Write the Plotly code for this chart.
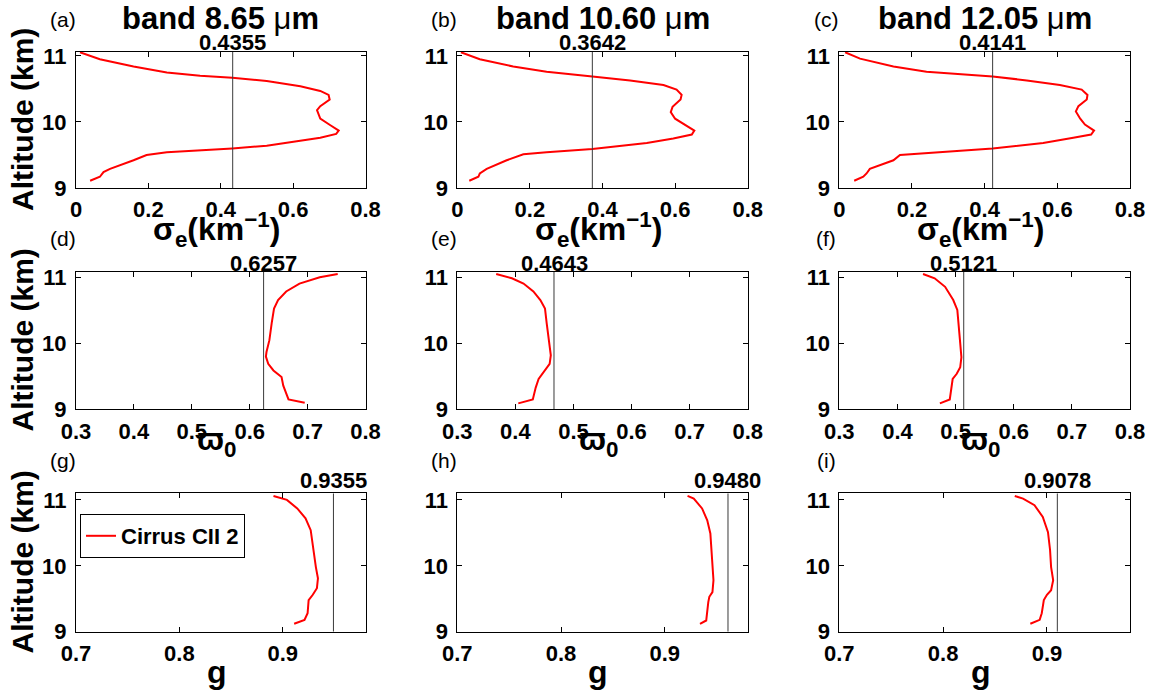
import plotly.graph_objects as go

W, H = 1158, 693

# ---------------- data ----------------
band_titles = ["band 8.65 ", "band 10.60 ", "band 12.05 "]
panel_letters = ["(a)", "(b)", "(c)", "(d)", "(e)", "(f)", "(g)", "(h)", "(i)"]
legend_name = "Cirrus CII 2"

# extinction coefficient sigma_e (km^-1)
alt_a = [11.056, 10.95, 10.84, 10.75, 10.70, 10.67, 10.62, 10.54, 10.47, 10.41, 10.34, 10.24, 10.18, 10.05, 9.95, 9.87, 9.82, 9.76, 9.70, 9.64, 9.60, 9.57, 9.54, 9.50, 9.42, 9.29, 9.24, 9.17, 9.11]
sig_a = [0.011, 0.066, 0.159, 0.251, 0.343, 0.432, 0.527, 0.620, 0.675, 0.698, 0.701, 0.675, 0.666, 0.675, 0.703, 0.726, 0.719, 0.675, 0.601, 0.527, 0.432, 0.343, 0.251, 0.195, 0.159, 0.094, 0.076, 0.066, 0.039]

alt_b = [11.056, 10.95, 10.84, 10.76, 10.69, 10.63, 10.56, 10.49, 10.41, 10.34, 10.23, 10.15, 10.05, 9.96, 9.87, 9.81, 9.75, 9.68, 9.59, 9.54, 9.51, 9.42, 9.29, 9.22, 9.17, 9.11]
sig_b = [0.010, 0.062, 0.154, 0.246, 0.372, 0.476, 0.568, 0.604, 0.618, 0.615, 0.593, 0.588, 0.600, 0.627, 0.653, 0.646, 0.595, 0.522, 0.372, 0.246, 0.182, 0.136, 0.081, 0.062, 0.058, 0.033]

alt_c = [11.056, 10.96, 10.84, 10.76, 10.69, 10.63, 10.56, 10.49, 10.41, 10.34, 10.24, 10.16, 10.05, 9.96, 9.87, 9.81, 9.76, 9.68, 9.60, 9.53, 9.50, 9.42, 9.29, 9.22, 9.17, 9.11]
sig_c = [0.016, 0.057, 0.149, 0.240, 0.422, 0.516, 0.607, 0.667, 0.683, 0.681, 0.658, 0.651, 0.663, 0.676, 0.701, 0.693, 0.644, 0.561, 0.422, 0.240, 0.167, 0.149, 0.084, 0.075, 0.066, 0.041]

# single scattering albedo
alt_d = [11.056, 11.005, 10.91, 10.79, 10.66, 10.53, 10.31, 10.05, 9.87, 9.80, 9.69, 9.59, 9.49, 9.36, 9.15, 9.10]
ssa_d = [0.752, 0.721, 0.686, 0.663, 0.649, 0.642, 0.638, 0.634, 0.629, 0.628, 0.632, 0.641, 0.655, 0.658, 0.667, 0.695]

alt_e = [11.056, 10.99, 10.91, 10.79, 10.66, 10.53, 10.30, 10.05, 9.82, 9.69, 9.56, 9.46, 9.33, 9.15, 9.09]
ssa_e = [0.367, 0.394, 0.414, 0.431, 0.443, 0.451, 0.454, 0.457, 0.461, 0.459, 0.448, 0.440, 0.435, 0.430, 0.405]

alt_f = [11.056, 10.99, 10.86, 10.66, 10.51, 10.25, 10.00, 9.79, 9.64, 9.54, 9.46, 9.15, 9.09]
ssa_f = [0.444, 0.464, 0.482, 0.496, 0.503, 0.506, 0.508, 0.510, 0.508, 0.502, 0.495, 0.490, 0.473]

# asymmetry factor g
alt_g = [11.06, 11.0, 10.87, 10.72, 10.54, 10.29, 9.98, 9.81, 9.66, 9.56, 9.48, 9.28, 9.18, 9.12]
asy_g = [0.891, 0.904, 0.914, 0.922, 0.927, 0.929, 0.932, 0.934, 0.933, 0.929, 0.925, 0.924, 0.921, 0.911]

alt_h = [11.06, 11.02, 10.87, 10.69, 10.49, 10.19, 9.93, 9.78, 9.60, 9.53, 9.45, 9.17, 9.12]
asy_h = [0.922, 0.928, 0.936, 0.941, 0.944, 0.945, 0.946, 0.947, 0.946, 0.943, 0.942, 0.940, 0.934]

alt_i = [11.06, 11.02, 10.92, 10.74, 10.51, 10.24, 9.98, 9.78, 9.63, 9.56, 9.48, 9.28, 9.18, 9.12]
asy_i = [0.869, 0.877, 0.888, 0.896, 0.901, 0.903, 0.904, 0.906, 0.904, 0.900, 0.897, 0.895, 0.893, 0.884]

# mean values (labels) and drawn positions of the vertical lines
mean_labels = ["0.4355", "0.3642", "0.4141", "0.6257", "0.4643", "0.5121", "0.9355", "0.9480", "0.9078"]
mean_line_x = [0.433, 0.372, 0.422, 0.624, 0.4665, 0.514, 0.949, 0.961, 0.910]

x_ranges = [[0, 0.8], [0.3, 0.8], [0.7, 0.98]]
x_tickvals = [[0, 0.2, 0.4, 0.6, 0.8], [0.3, 0.4, 0.5, 0.6, 0.7, 0.8], [0.7, 0.8, 0.9]]
y_ranges = [[9, 11.06], [9, 11.09], [9, 11.1]]
y_tickvals = [9, 10, 11]

profiles = [(sig_a, alt_a), (sig_b, alt_b), (sig_c, alt_c),
            (ssa_d, alt_d), (ssa_e, alt_e), (ssa_f, alt_f),
            (asy_g, alt_g), (asy_h, alt_h), (asy_i, alt_i)]

x_titles = ["<b>σ<sub>e</sub>(km<sup>−1</sup>)</b>", "<b>ϖ<sub>0</sub></b>", "<b>g</b>"]
y_title = "<b>Altitude (km)</b>"

# ---------------- layout geometry (pixels) ----------------
cols_px = [(76, 365.5), (457.3, 747.7), (839.3, 1130)]
rows_px = [(52, 188), (271.7, 409.3), (493.3, 631.7)]
label_drop = [6, 7.3, 2.7]
xtitle_y = [229, 441, 672]

def px_x(p):
    return p / W

def px_y(p):
    return 1 - p / H

FONT = "Arial"
fig = go.Figure()
annotations = []

for k in range(9):
    r, c = divmod(k, 3)
    idx = k + 1
    xa = "x" if idx == 1 else f"x{idx}"
    ya = "y" if idx == 1 else f"y{idx}"
    xv, yv = profiles[k]
    fig.add_trace(go.Scatter(x=xv, y=yv, mode="lines", line=dict(color="#ff0000", width=2),
                             name=legend_name, showlegend=(k == 6), xaxis=xa, yaxis=ya))
    fig.add_trace(go.Scatter(x=[mean_line_x[k], mean_line_x[k]], y=[y_ranges[r][0], y_ranges[r][1]],
                             mode="lines", line=dict(color="#3a3a3a", width=1),
                             showlegend=False, xaxis=xa, yaxis=ya, hoverinfo="skip"))
    axkw = dict(showline=True, linecolor="black", linewidth=1, mirror="ticks",
                ticks="inside", ticklen=5, tickcolor="black", showgrid=False, zeroline=False,
                automargin=False,
                tickfont=dict(family=FONT, size=22, color="black", weight="bold"))
    fig.layout[("xaxis" if idx == 1 else f"xaxis{idx}")] = dict(
        domain=[px_x(cols_px[c][0]), px_x(cols_px[c][1])], anchor=ya,
        range=x_ranges[r], tickvals=x_tickvals[r], ticklabelstandoff=2, **axkw)
    fig.layout[("yaxis" if idx == 1 else f"yaxis{idx}")] = dict(
        domain=[px_y(rows_px[r][1]), px_y(rows_px[r][0])], anchor=xa,
        range=y_ranges[r], tickvals=y_tickvals, ticklabelstandoff=4, **axkw)

    # value label above the vertical line
    annotations.append(dict(x=mean_line_x[k], xref=xa, y=px_y(rows_px[r][0] - 1 + label_drop[r]),
                            yref="paper", text=f"<b>{mean_labels[k]}</b>", showarrow=False,
                            xanchor="center", yanchor="bottom",
                            font=dict(family=FONT, size=22, color="black")))
    # panel letter
    cx0 = cols_px[c][0]
    annotations.append(dict(x=px_x(cx0 - 13), y=px_y(rows_px[r][0] - 33), xref="paper", yref="paper",
                            text=panel_letters[k], showarrow=False, xanchor="center", yanchor="middle",
                            font=dict(family=FONT, size=21, color="black")))
    # x-axis title
    xc = (cols_px[c][0] + cols_px[c][1]) / 2
    annotations.append(dict(x=px_x(xc - 4), y=px_y(xtitle_y[r]), xref="paper", yref="paper",
                            text=x_titles[r], showarrow=False, xanchor="center", yanchor="middle",
                            font=dict(family=FONT, size=32, color="black")))
    if c == 0:
        yc = (rows_px[r][0] + rows_px[r][1]) / 2
        annotations.append(dict(x=px_x(22), y=px_y(yc), xref="paper", yref="paper",
                                text=y_title, showarrow=False, textangle=-90,
                                xanchor="center", yanchor="middle",
                                font=dict(family=FONT, size=30, color="black")))
    if r == 0:
        annotations.append(dict(x=px_x(xc), y=px_y(18), xref="paper", yref="paper",
                                text=f"<b>{band_titles[c]}</b>μ<b>m</b>", showarrow=False,
                                xanchor="center", yanchor="middle",
                                font=dict(family=FONT, size=31, color="black")))

fig.update_layout(
    width=W, height=H, margin=dict(l=0, r=0, t=0, b=0, autoexpand=False),
    paper_bgcolor="white", plot_bgcolor="white",
    annotations=annotations,
    legend=dict(x=px_x(80), y=px_y(514), xanchor="left", yanchor="top",
                bordercolor="black", borderwidth=1, bgcolor="white",
                font=dict(family=FONT, size=22, color="black", weight="bold"),
                itemwidth=30),
)

fig.write_html("out.html", config={"displayModeBar": False},
               post_script="document.body.style.margin='0px';document.body.style.overflow='hidden';")
